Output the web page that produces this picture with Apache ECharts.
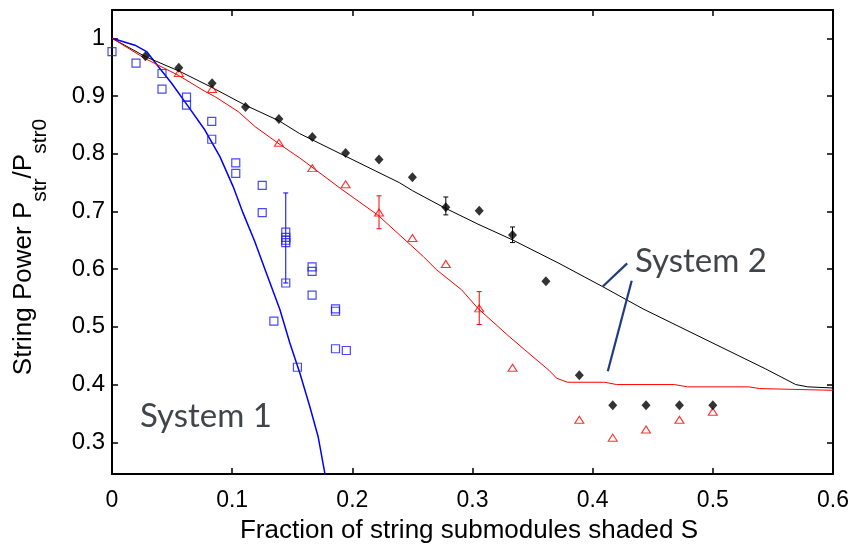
<!DOCTYPE html>
<html>
<head>
<meta charset="utf-8">
<script src="https://cdn.jsdelivr.net/npm/echarts@6/dist/echarts.min.js"></script>
<style>
html,body{margin:0;padding:0;background:#fff;}
#chart{width:853px;height:547px;}
</style>
</head>
<body>
<div id="chart"></div>
<script>
//---- DATA
// model curves
var sys1ModelX	= [0, 0.0191, 0.0288, 0.0385, 0.0496, 0.0634, 0.0773, 0.0898, 0.1008, 0.1091, 0.1188, 0.1285, 0.1397, 0.148, 0.1563, 0.1646, 0.1715, 0.1775];
var sys1ModelY	= [1, 0.988, 0.977, 0.951, 0.922, 0.882, 0.841, 0.795, 0.743, 0.697, 0.648, 0.593, 0.530, 0.472, 0.420, 0.362, 0.310, 0.242];

var sys2ModelX	= [0, 0.028, 0.056, 0.083, 0.111, 0.139, 0.156, 0.194, 0.239, 0.25, 0.276, 0.3045, 0.333, 0.372, 0.408, 0.442, 0.544, 0.569, 0.579, 0.6];
var sys2ModelY	= [1, 0.968, 0.943, 0.915, 0.884, 0.857, 0.835, 0.796, 0.750, 0.736, 0.707, 0.678, 0.651, 0.610, 0.570, 0.531, 0.427, 0.400, 0.396, 0.394];

var redModelX	= [0, 0.0274, 0.0551, 0.0773, 0.0856, 0.105, 0.119, 0.139, 0.156, 0.19, 0.221, 0.259, 0.27, 0.291, 0.3045, 0.329, 0.343, 0.364, 0.37, 0.379, 0.41, 0.42, 0.468, 0.479, 0.53, 0.539, 0.6];
var redModelY	= [1, 0.965, 0.936, 0.908, 0.899, 0.873, 0.847, 0.817, 0.793, 0.740, 0.694, 0.622, 0.599, 0.564, 0.532, 0.486, 0.461, 0.424, 0.411, 0.404, 0.404, 0.400, 0.400, 0.396, 0.396, 0.393, 0.390];

// measured points
var sys1MeasX	= [0, 0.02, 0.0416, 0.0416, 0.062, 0.062, 0.083, 0.083, 0.103, 0.103, 0.125, 0.125, 0.1347, 0.1446, 0.1446, 0.1446, 0.1446, 0.1446, 0.1543, 0.1665, 0.1665, 0.1665, 0.186, 0.186, 0.186, 0.195];
var sys1MeasY	= [0.977, 0.957, 0.939, 0.912, 0.898, 0.884, 0.856, 0.825, 0.784, 0.766, 0.745, 0.698, 0.510, 0.664, 0.655, 0.650, 0.646, 0.576, 0.430, 0.604, 0.596, 0.555, 0.531, 0.527, 0.462, 0.459];

var sys2MeasX	= [0.0278, 0.0556, 0.0833, 0.1111, 0.1389, 0.1667, 0.1944, 0.2222, 0.25, 0.2778, 0.3056, 0.3333, 0.3611, 0.3889, 0.4167, 0.4444, 0.4722, 0.5];
var sys2MeasY	= [0.969, 0.949, 0.922, 0.881, 0.860, 0.829, 0.801, 0.790, 0.759, 0.707, 0.701, 0.659, 0.579, 0.416, 0.364, 0.364, 0.364, 0.364];

var redMeasX	= [0.0556, 0.0833, 0.1389, 0.1667, 0.1944, 0.2222, 0.25, 0.2778, 0.3056, 0.3333, 0.3889, 0.4167, 0.4444, 0.4722, 0.5];
var redMeasY	= [0.940, 0.912, 0.819, 0.775, 0.747, 0.698, 0.654, 0.609, 0.532, 0.429, 0.339, 0.308, 0.322, 0.339, 0.353];

// error bars [x, low, high]
var sys1Err	= [[0.1446, 0.576, 0.732]];
var sys2Err	= [[0.2778, 0.694, 0.725], [0.3333, 0.646, 0.673]];
var redErr	= [[0.2222, 0.670, 0.727], [0.3056, 0.504, 0.561]];

// ticks
var xTicks	= [0, 0.1, 0.2, 0.3, 0.4, 0.5, 0.6];
var yTicks	= [0.3, 0.4, 0.5, 0.6, 0.7, 0.8, 0.9, 1];

// annotation pointer lines (data coords)
var pointerA	= [[0.4287, 0.610], [0.4084, 0.570]];
var pointerB	= [[0.4325, 0.580], [0.4126, 0.423]];

//---- HELPERS
function zip(xs, ys){
	var v = [];
	for(var i=0;i<xs.length;i++){
		v.push([xs[i], ys[i]]);
	}
	return v;
}

function errRender(params, api){
	var x = api.value(0);
	var p1 = api.coord([x, api.value(1)]);
	var p2 = api.coord([x, api.value(2)]);
	var c = 2.5;
	var st = {stroke: api.visual('color'), lineWidth: 1};
	return {type: 'group', children: [
		{type: 'line', shape: {x1: p1[0], y1: p1[1], x2: p2[0], y2: p2[1]}, style: st},
		{type: 'line', shape: {x1: p1[0]-c, y1: p1[1], x2: p1[0]+c, y2: p1[1]}, style: st},
		{type: 'line', shape: {x1: p2[0]-c, y1: p2[1], x2: p2[0]+c, y2: p2[1]}, style: st}
	]};
}

var axisFont = 'Liberation Sans';
var noteFont = 'Lato';

function frameAxis(extra){
	var o = {
		type: 'value',
		axisLine: {show: true, onZero: false, lineStyle: {color: '#000', width: 2}},
		axisTick: {show: true, inside: true, length: 6, lineStyle: {color: '#000', width: 1.5}},
		splitLine: {show: false},
		axisLabel: {show: false}
	};
	for(var k in extra) o[k] = extra[k];
	return o;
}

function lineSeries(data, color, width){
	return {type: 'line', data: data, showSymbol: false, symbol: 'none', smooth: false,
		lineStyle: {color: color, width: width}, itemStyle: {color: color}, z: 2, silent: true};
}

//---- CHART
var myChart = echarts.init(document.getElementById('chart'));

var option = {
	animation: false,
	backgroundColor: '#fff',
	grid: {left: 112, right: 20, top: 10, bottom: 73, containLabel: false, outerBoundsMode: 'none'},
	xAxis: [
		frameAxis({
			position: 'bottom', min: 0, max: 0.6, interval: 0.1,
			axisLabel: {show: true, margin: 15, fontSize: 23, color: '#000', fontFamily: axisFont}
		}),
		frameAxis({position: 'top', min: 0, max: 0.6, interval: 0.1})
	],
	yAxis: [
		frameAxis({
			position: 'left', min: 0.245, max: 1.049,
			axisTick: {show: true, inside: true, length: 6, customValues: yTicks, lineStyle: {color: '#000', width: 1.5}},
			axisLabel: {show: true, margin: 7, fontSize: 24, color: '#000', fontFamily: axisFont, customValues: yTicks}
		}),
		frameAxis({
			position: 'right', min: 0.245, max: 1.049,
			axisTick: {show: true, inside: true, length: 6, customValues: yTicks, lineStyle: {color: '#000', width: 1.5}}
		})
	],
	graphic: [
		// axis titles
		{type: 'text', x: 469, y: 531, silent: true,
			style: {text: 'Fraction of string submodules shaded S', align: 'center', verticalAlign: 'middle',
				fontSize: 26, fontFamily: axisFont, fill: '#000'}},
		{type: 'text', x: 24, y: 247, rotation: Math.PI / 2, silent: true,
			style: {text: '{m|String Power P}{s|str}{m|/P}{s|str0}', align: 'center', verticalAlign: 'middle',
				fontFamily: axisFont, fill: '#000',
				rich: {
					m: {fontSize: 26, lineHeight: 54, fontFamily: axisFont, fill: '#000'},
					s: {fontSize: 21, lineHeight: 21, verticalAlign: 'bottom', fontFamily: axisFont, fill: '#000'}
				}}},
		// notes
		{type: 'text', left: 140, top: 400, style: {text: 'System 1', fontSize: 33, fontFamily: noteFont, fill: '#40454a'}},
		{type: 'text', left: 635, top: 245, style: {text: 'System 2', fontSize: 33, fontFamily: noteFont, fill: '#40454a'}}
	],
	series: [
		lineSeries(zip(sys1ModelX, sys1ModelY), '#0000ff', 1.5),
		lineSeries(zip(sys2ModelX, sys2ModelY), '#000000', 1),
		lineSeries(zip(redModelX, redModelY), '#ff0000', 1),
		lineSeries(pointerA, '#1f3c80', 2.2),
		lineSeries(pointerB, '#1f3c80', 2.2),
		{type: 'custom', renderItem: errRender, data: sys1Err, itemStyle: {color: '#0000ff'}, encode: {x: 0, y: [1, 2]}, z: 3, silent: true},
		{type: 'custom', renderItem: errRender, data: sys2Err, itemStyle: {color: '#000000'}, encode: {x: 0, y: [1, 2]}, z: 3, silent: true},
		{type: 'custom', renderItem: errRender, data: redErr, itemStyle: {color: '#ff0000'}, encode: {x: 0, y: [1, 2]}, z: 3, silent: true},
		{type: 'scatter', data: zip(sys1MeasX, sys1MeasY), symbol: 'rect', symbolSize: 8,
			itemStyle: {color: 'rgba(0,0,0,0)', borderColor: '#1a1aff', borderWidth: 1.2}, z: 4, silent: true},
		{type: 'scatter', data: zip(redMeasX, redMeasY), symbol: 'triangle', symbolSize: [9, 7],
			itemStyle: {color: 'rgba(0,0,0,0)', borderColor: '#ff0000', borderWidth: 1.1}, z: 4, silent: true},
		{type: 'scatter', data: zip(sys2MeasX, sys2MeasY), symbol: 'diamond', symbolSize: [9, 10],
			itemStyle: {color: '#000'}, z: 5, silent: true}
	]
};

myChart.setOption(option);
</script>
</body>
</html>
